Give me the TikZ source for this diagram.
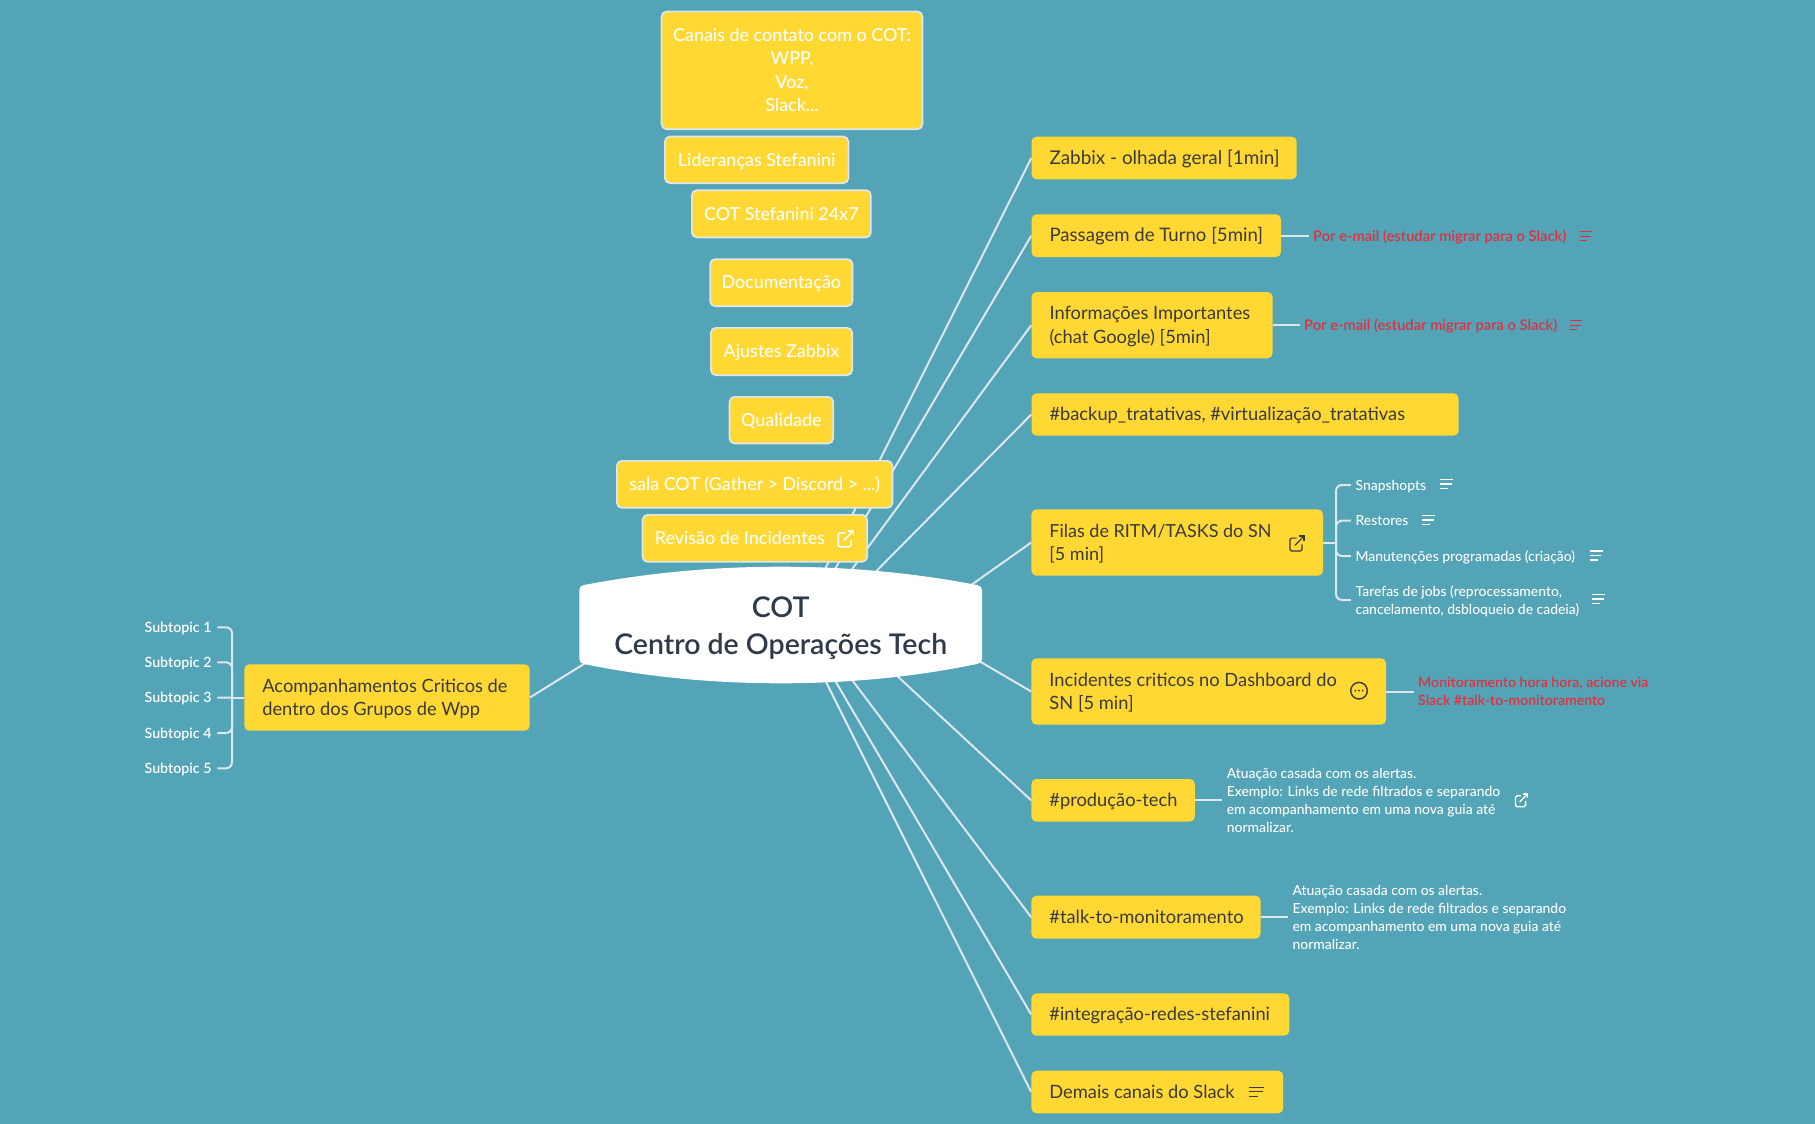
\documentclass[tikz,border=0pt]{standalone}
\usepackage{fontspec}
\setmainfont{Lato}
\newfontfamily\medfont{Lato Medium}
\newfontfamily\sbfont{Lato Semibold}
\usetikzlibrary{backgrounds}
\definecolor{bgteal}{HTML}{52A4B6}
\definecolor{boxyellow}{HTML}{FFD833}
\definecolor{linkgrey}{HTML}{DFE7EE}
\definecolor{darktext}{HTML}{3A3A3A}
\definecolor{centertext}{HTML}{2F3A4B}
\definecolor{redtext}{HTML}{E0303F}
\tikzset{
  darkbox/.style={rectangle,rounded corners=5pt,fill=boxyellow,inner sep=0pt,text=darktext,font=\fontsize{18.3}{23.3}\selectfont},
  whitebox/.style={rectangle,rounded corners=5pt,fill=boxyellow,draw=linkgrey,line width=1.7pt,inner sep=0pt,text=white,font=\medfont\fontsize{17.9}{23.3}\selectfont},
  smallwhite/.style={anchor=west,inner sep=0pt,text=white,font=\medfont\fontsize{13.9}{18}\selectfont},
  smallred/.style={anchor=west,inner sep=0pt,text=redtext,font=\sbfont\fontsize{14.1}{18}\selectfont},
  emailred/.style={smallred,font=\sbfont\fontsize{14.7}{18}\selectfont},
  subtopic/.style={anchor=east,inner sep=0pt,text=white,font=\sbfont\fontsize{14.2}{18}\selectfont},
  centertitle/.style={inner sep=0pt,text=centertext,font=\sbfont\fontsize{28.5}{37.5}\selectfont},
  link/.style={draw=linkgrey,line width=2pt},
  branch/.style={link,rounded corners=6pt},
  iconline/.style={line width=1.4pt},
}
\newcommand{\lowered}[1]{\raisebox{-1.6pt}[\height][\depth]{#1}}
\newcommand{\dbox}[6]{%
  \pgfmathsetlengthmacro\boxtw{#5-#3-36}%
  \node[darkbox,minimum width={#5-#3},minimum height={#6-#4}] (#1) at ({(#3+#5)/2},{(#4+#6)/2})
    {\makebox[\boxtw][l]{\lowered{\begin{tabular}{@{}l@{}}#2\end{tabular}}}};}
\newcommand{\wbox}[6]{%
  \node[whitebox,minimum width={#5-#3-1.7},minimum height={#6-#4-1.7}] (#1) at ({(#3+#5)/2},{(#4+#6)/2})
    {\lowered{\begin{tabular}{@{}c@{}}#2\end{tabular}}};}
\newcommand{\noteicon}[4]{% x y width colour
  \draw[iconline,#4] (#1,#2-4.5) -- ++(#3,0);
  \draw[iconline,#4] (#1,#2) -- ++({#3*0.92},0);
  \draw[iconline,#4] (#1,#2+4.5) -- ++({#3*0.62},0);}
\newcommand{\linkicon}[4]{% x y size colour (top-left)
  \draw[iconline,line width=1.6pt,rounded corners=1.5pt,#4] ({#1+.5*#3},{#2+.14*#3}) -- ({#1+.06*#3},{#2+.14*#3}) -- ({#1+.06*#3},{#2+#3}) -- ({#1+.86*#3},{#2+#3}) -- ({#1+.86*#3},{#2+.55*#3});
  \draw[iconline,line width=1.6pt,#4] ({#1+.4*#3},{#2+.62*#3}) -- ({#1+#3},{#2});
  \draw[iconline,line width=1.6pt,#4] ({#1+.66*#3},{#2}) -- ({#1+#3},{#2}) -- ({#1+#3},{#2+.34*#3});}
\newcommand{\stack}[1]{\lowered{\begin{tabular}{@{}l@{}}#1\end{tabular}}}
\newcommand{\sized}[1]{\fontsize{#1}{23.3}\selectfont}
\begin{document}
\begin{tikzpicture}[x=1pt,y=-1pt]
\useasboundingbox (0,0) rectangle (1815,1124);
% central shape
\fill[white] (579.3,590) .. controls (579.3,587) and (581,585.6) .. (584,585)
  .. controls (650,572.5) and (715,566.7) .. (780.7,566.7)
  .. controls (846,566.7) and (912,572.5) .. (977,585)
  .. controls (980,585.6) and (982,587) .. (982,590) -- (982,659)
  .. controls (982,662) and (980,663.4) .. (977,664)
  .. controls (912,677.5) and (846,683.3) .. (780.7,683.3)
  .. controls (715,683.3) and (650,677.5) .. (584,664)
  .. controls (581,663.4) and (579.3,662) .. (579.3,659) -- cycle;
\node[centertitle,align=center] (cot) at (780.7,628) {COT\\Centro de Operações Tech};
% top white boxes
\wbox{canais}{Canais de contato com o COT:\\WPP,\\Voz,\\Slack...}{660.7}{10.7}{923.3}{130}
\wbox{lider}{Lideranças Stefanini}{664}{135.7}{849.3}{184}
\wbox{stef}{COT Stefanini 24x7}{691}{189.3}{871.7}{238.3}
\wbox{docu}{Documentação}{709.3}{258.3}{853.3}{307}
\wbox{ajustes}{Ajustes Zabbix}{710}{327}{853}{376}
\wbox{quali}{Qualidade}{728.7}{396}{834}{444.3}
\wbox{sala}{sala COT (Gather > Discord > ...)}{616}{460}{893.3}{508.7}
\wbox{revisao}{Revisão de Incidentes\hspace*{30pt}}{641.7}{514}{868}{562.7}
\linkicon{837.3}{530.7}{16}{white}
% right yellow boxes
\dbox{zabbix}{\sized{18.9}Zabbix - olhada geral [1min]}{1031.5}{136.7}{1296.7}{179.3}
\dbox{passagem}{\sized{18.6}Passagem de Turno [5min]}{1031.5}{214.3}{1281}{257}
\dbox{info}{Informações Importantes\\(chat Google) [5min]}{1031.5}{292}{1272.6}{358.3}
\dbox{backup}{\#backup\_tratativas, \#virtualização\_tratativas}{1031.5}{393.3}{1458.6}{435.7}
\dbox{filas}{\sized{18}Filas de RITM/TASKS do SN\\{}\sized{18}[5 min]}{1031.4}{509.3}{1323}{575.7}
\linkicon{1289}{536}{15}{darktext,line width=1.2pt}
\dbox{incid}{Incidentes criticos no Dashboard do\\SN [5 min]}{1031.4}{658.3}{1386}{724.7}
\draw[darktext,line width=1.4pt] (1359,690.7) circle (8.3);
\fill[darktext] (1355.3,690.7) circle (1) (1359,690.7) circle (1) (1362.7,690.7) circle (1);
\dbox{prod}{\#produção-tech}{1031.4}{779}{1194.8}{821.7}
\dbox{talk}{\#talk-to-monitoramento}{1031.4}{895.7}{1260.6}{938.7}
\dbox{integ}{\#integração-redes-stefanini}{1031.4}{993.3}{1289.3}{1035.7}
\dbox{demais}{Demais canais do Slack}{1031.4}{1070.7}{1283.2}{1113.3}
\noteicon{1249}{1091.7}{15}{darktext,line width=1.2pt}
\dbox{acomp}{Acompanhamentos Criticos de\\dentro dos Grupos de Wpp}{244.3}{664.3}{529.7}{730.7}
% side labels
\node[emailred] (emaila) at (1313,236.3) {\stack{Por e-mail (estudar migrar para o Slack)}};
\noteicon{1579.5}{236}{12}{redtext,line width=1pt}
\node[emailred] (emailb) at (1304,325.3) {\stack{Por e-mail (estudar migrar para o Slack)}};
\noteicon{1570}{325}{12}{redtext,line width=1pt}
\node[smallwhite] (snap) at (1355.4,485) {\stack{Snapshopts}};
\noteicon{1440}{484}{13}{white}
\node[smallwhite] (rest) at (1355.4,520.7) {\stack{Restores}};
\noteicon{1422}{520}{13}{white}
\node[smallwhite] (manut) at (1355.4,556) {\stack{Manutenções programadas (criação)}};
\noteicon{1589.5}{555.5}{13}{white}
\node[smallwhite] (taref) at (1355.4,600) {\stack{Tarefas de jobs (reprocessamento,\\cancelamento, dsbloqueio de cadeia)}};
\noteicon{1592}{599}{13}{white}
\node[smallred] (monit) at (1418,691) {\stack{Monitoramento hora hora, acione via\\Slack \#talk-to-monitoramento}};
\node[smallwhite] (atua) at (1226.6,800.5) {\stack{Atuação casada com os alertas.\\Exemplo: Links de rede filtrados e separando\\em acompanhamento em uma nova guia até\\normalizar.}};
\linkicon{1514.7}{794}{12.7}{white,line width=1.4pt}
\node[smallwhite] (atub) at (1292.4,917.5) {\stack{Atuação casada com os alertas.\\Exemplo: Links de rede filtrados e separando\\em acompanhamento em uma nova guia até\\normalizar.}};
\node[subtopic] (s1) at (211.7,627.3) {\stack{Subtopic 1}};
\node[subtopic] (s2) at (211.7,662.3) {\stack{Subtopic 2}};
\node[subtopic] (s3) at (211.7,697.7) {\stack{Subtopic 3}};
\node[subtopic] (s4) at (211.7,733) {\stack{Subtopic 4}};
\node[subtopic] (s5) at (211.7,768.3) {\stack{Subtopic 5}};
% connector anchors
\coordinate (c1) at (797,625);
\coordinate (c2) at (802,625);
\coordinate (c3) at (811,625);
\coordinate (c4) at (823,625);
\coordinate (c5) at (950,600);
\coordinate (c6) at (950,644);
\coordinate (c7) at (880,660);
\coordinate (c8) at (840,664);
\coordinate (c9) at (820,655);
\coordinate (c10) at (810,650);
\coordinate (c11) at (600,654);
\coordinate (trunkr) at (1336,542.5);
\coordinate (trunkl) at (232,697.5);
\begin{scope}[on background layer]
\fill[bgteal] (0,0) rectangle (1815,1124);
\foreach \c/\n in {c1/zabbix,c2/passagem,c3/info,c4/backup,c5/filas,c6/incid,c7/prod,c8/talk,c9/integ,c10/demais}
  \draw[link] (\c) -- (\n.west);
\draw[link] (acomp.east) -- (c11);
\draw[link] (passagem.east) -- ++(28,0);
\draw[link] (info.east) -- ++(27.4,0);
\draw[link] (incid.east) -- ++(27.5,0);
\draw[link] (prod.east) -- ++(27.2,0);
\draw[link] (talk.east) -- ++(27.4,0);
\draw[link] (filas.east) -- (trunkr);
\foreach \n in {snap,rest,manut,taref}
  \draw[branch,shorten >=4.6pt] (trunkr) |- (\n.west);
\draw[link] (acomp.west) -- (trunkl);
\foreach \n in {s1,s2,s4,s5}
  \draw[branch,shorten >=5.6pt] (trunkl) |- (\n.east);
\draw[link,shorten >=5.6pt] (trunkl) -- (s3.east);
\end{scope}
\end{tikzpicture}
\end{document}
